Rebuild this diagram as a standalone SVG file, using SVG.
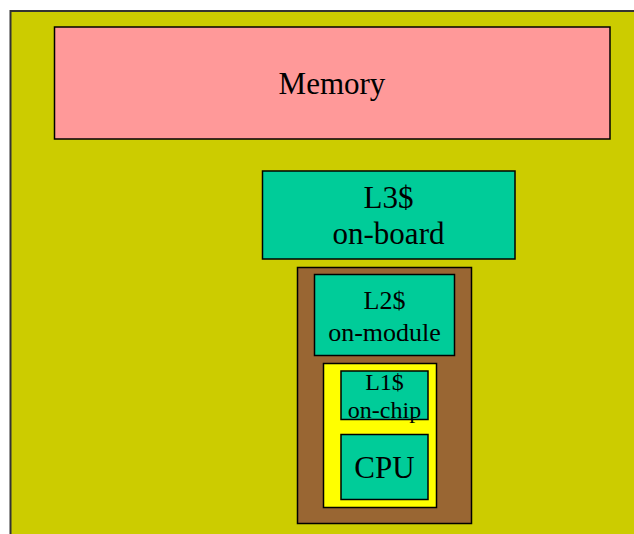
<svg xmlns="http://www.w3.org/2000/svg" width="634" height="534" viewBox="0 0 634 534">
<style>
.box{stroke:#000;stroke-width:1.5}
.t{font-family:"Liberation Serif","Times New Roman",serif;fill:#000;text-anchor:middle}
</style>
<rect width="634" height="534" fill="#fff"/>
<g id="board">
<rect x="10.5" y="11" width="640" height="540" fill="#CCCC00" stroke="#333" stroke-width="2"/>
</g>
<g id="memory">
<rect class="box" x="54.5" y="27" width="555.5" height="112" fill="#FF9999"/>
<text class="t" x="332" y="94" font-size="31">Memory</text>
</g>
<g id="l3">
<rect class="box" x="262.5" y="171" width="252.5" height="88" fill="#00CC99"/>
<text class="t" x="388.5" y="207.5" font-size="31">L3$</text>
<text class="t" x="388.5" y="243.5" font-size="31">on-board</text>
</g>
<g id="module">
<rect class="box" x="297.5" y="267.5" width="174" height="256" fill="#996633"/>
</g>
<g id="l2">
<rect class="box" x="314.5" y="274.5" width="140" height="81" fill="#00CC99"/>
<text class="t" x="384.5" y="308.5" font-size="26">L2$</text>
<text class="t" x="384.5" y="341" font-size="26">on-module</text>
</g>
<g id="chip">
<rect class="box" x="323.5" y="363.5" width="113" height="144" fill="#FFFF00"/>
</g>
<g id="l1">
<rect class="box" x="341" y="371" width="87" height="48.5" fill="#00CC99"/>
<text class="t" x="384.5" y="389.5" font-size="24">L1$</text>
<text class="t" x="384.5" y="417.5" font-size="24">on-chip</text>
</g>
<g id="cpu">
<rect class="box" x="341" y="434.5" width="87" height="65" fill="#00CC99"/>
<text class="t" x="384.5" y="477.5" font-size="31">CPU</text>
</g>
<g id="connectors"/>
</svg>
